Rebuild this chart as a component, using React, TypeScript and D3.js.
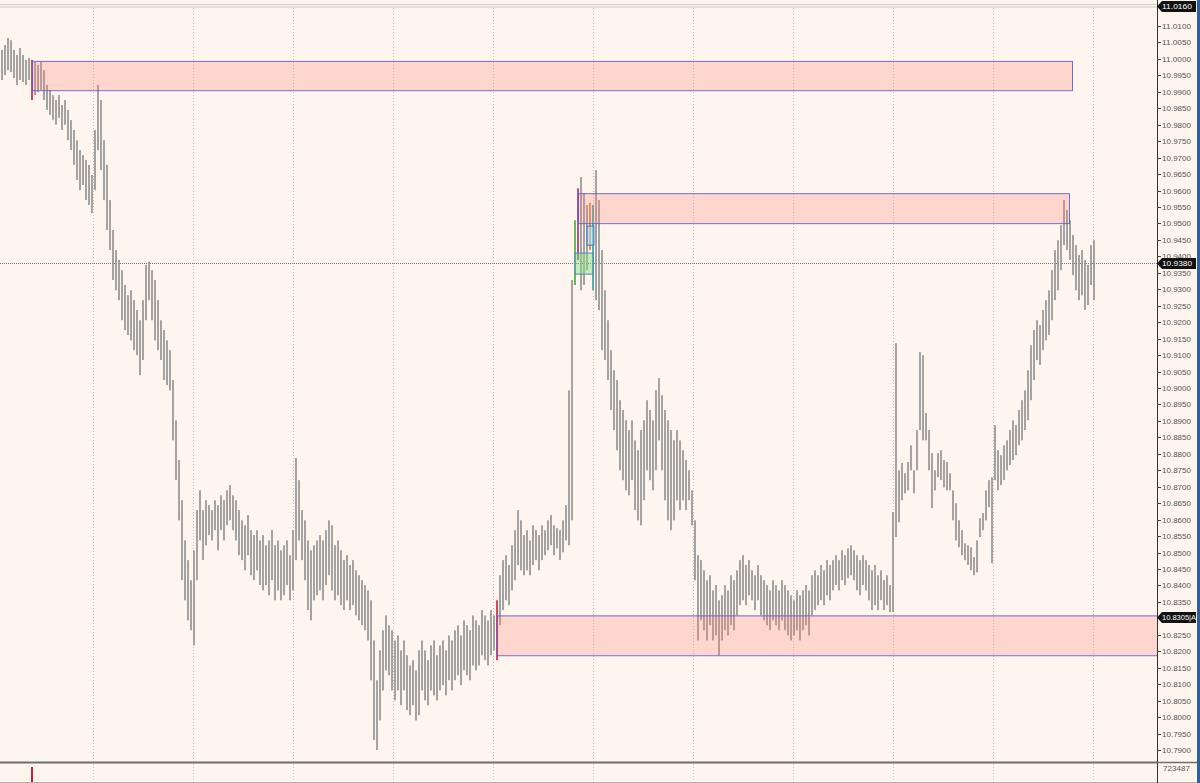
import React from "react";
import * as d3 from "d3";

// ---- DATA ----
const highs: number[] = [
  11.0027, 11.0042, 11.0064, 11.0057, 11.0027, 11.0012, 11.0033, 11.0012, 10.9997, 11.0003,
  10.9997, 10.9991, 10.9982, 10.9991, 10.9966, 10.9921, 10.9905, 10.9890, 10.9875, 10.9890,
  10.9860, 10.9875, 10.9845, 10.9814, 10.9784, 10.9753, 10.9723, 10.9708, 10.9693, 10.9678,
  10.9647, 10.9784, 10.9921, 10.9875, 10.9753, 10.9678, 10.9571, 10.9480, 10.9419, 10.9389,
  10.9358, 10.9313, 10.9282, 10.9297, 10.9267, 10.9237, 10.9206, 10.9267, 10.9374, 10.9383,
  10.9358, 10.9328, 10.9267, 10.9206, 10.9176, 10.9145, 10.9115, 10.9024, 10.8902, 10.8781,
  10.8659, 10.8537, 10.8477, 10.8416, 10.8507, 10.8629, 10.8689, 10.8629, 10.8659, 10.8644,
  10.8629, 10.8659, 10.8644, 10.8674, 10.8659, 10.8689, 10.8705, 10.8674, 10.8659, 10.8629,
  10.8598, 10.8583, 10.8614, 10.8568, 10.8553, 10.8568, 10.8537, 10.8553, 10.8522, 10.8537,
  10.8568, 10.8522, 10.8537, 10.8507, 10.8522, 10.8537, 10.8492, 10.8568, 10.8787, 10.8720,
  10.8629, 10.8598, 10.8537, 10.8507, 10.8522, 10.8537, 10.8553, 10.8537, 10.8568, 10.8598,
  10.8583, 10.8522, 10.8537, 10.8507, 10.8477, 10.8492, 10.8462, 10.8477, 10.8446, 10.8431,
  10.8416, 10.8401, 10.8385, 10.8355, 10.8233, 10.8112, 10.8203, 10.8264, 10.8309, 10.8279,
  10.8264, 10.8233, 10.8248, 10.8203, 10.8233, 10.8188, 10.8157, 10.8173, 10.8142, 10.8203,
  10.8233, 10.8203, 10.8173, 10.8218, 10.8233, 10.8188, 10.8218, 10.8233, 10.8203, 10.8248,
  10.8233, 10.8264, 10.8279, 10.8248, 10.8294, 10.8279, 10.8264, 10.8309, 10.8294, 10.8279,
  10.8325, 10.8309, 10.8294, 10.8325, 10.8309, 10.8355, 10.8431, 10.8477, 10.8492, 10.8462,
  10.8522, 10.8568, 10.8629, 10.8598, 10.8553, 10.8568, 10.8537, 10.8583, 10.8568, 10.8553,
  10.8583, 10.8568, 10.8598, 10.8614, 10.8583, 10.8574, 10.8568, 10.8598, 10.8644, 10.8993,
  10.9328, 10.9510, 10.9607, 10.9641, 10.9592, 10.9556, 10.9562, 10.9556, 10.9662, 10.9571,
  10.9419, 10.9297, 10.9206, 10.9115, 10.9054, 10.9024, 10.8963, 10.8933, 10.8902, 10.8872,
  10.8902, 10.8841, 10.8811, 10.8872, 10.8902, 10.8963, 10.8933, 10.8902, 10.8993, 10.9030,
  10.8978, 10.8933, 10.8902, 10.8872, 10.8841, 10.8872, 10.8841, 10.8811, 10.8781, 10.8750,
  10.8689, 10.8598, 10.8492, 10.8477, 10.8446, 10.8416, 10.8431, 10.8385, 10.8401, 10.8355,
  10.8370, 10.8401, 10.8385, 10.8431, 10.8416, 10.8446, 10.8477, 10.8492, 10.8462, 10.8477,
  10.8446, 10.8431, 10.8462, 10.8431, 10.8416, 10.8401, 10.8385, 10.8416, 10.8401, 10.8385,
  10.8416, 10.8401, 10.8385, 10.8370, 10.8355, 10.8385, 10.8370, 10.8385, 10.8401, 10.8385,
  10.8431, 10.8446, 10.8431, 10.8462, 10.8446, 10.8477, 10.8462, 10.8477, 10.8492, 10.8477,
  10.8507, 10.8492, 10.8513, 10.8522, 10.8507, 10.8492, 10.8477, 10.8492, 10.8477, 10.8462,
  10.8446, 10.8462, 10.8431, 10.8446, 10.8416, 10.8431, 10.8401, 10.8623, 10.9136, 10.8750,
  10.8772, 10.8741, 10.8775, 10.8826, 10.8750, 10.8872, 10.9109, 10.9100, 10.8924, 10.8872,
  10.8802, 10.8750, 10.8802, 10.8811, 10.8781, 10.8775, 10.8741, 10.8689, 10.8650, 10.8598,
  10.8568, 10.8528, 10.8522, 10.8516, 10.8486, 10.8537, 10.8604, 10.8620, 10.8689, 10.8720,
  10.8729, 10.8887, 10.8811, 10.8796, 10.8826, 10.8841, 10.8872, 10.8902, 10.8887, 10.8933,
  10.8963, 10.8993, 10.9054, 10.9130, 10.9176, 10.9206, 10.9191, 10.9237, 10.9267, 10.9297,
  10.9358, 10.9419, 10.9449, 10.9495, 10.9571, 10.9541, 10.9510, 10.9465, 10.9434, 10.9404,
  10.9419, 10.9389, 10.9374, 10.9434, 10.9449,
];

const lows: number[] = [
  10.9936, 10.9951, 10.9966, 10.9960, 10.9942, 10.9921, 10.9936, 10.9930, 10.9921, 10.9936,
  10.9875, 10.9890, 10.9899, 10.9905, 10.9875, 10.9845, 10.9830, 10.9815, 10.9800, 10.9821,
  10.9784, 10.9800, 10.9753, 10.9723, 10.9678, 10.9632, 10.9601, 10.9617, 10.9571, 10.9556,
  10.9532, 10.9601, 10.9723, 10.9662, 10.9571, 10.9480, 10.9419, 10.9328, 10.9297, 10.9267,
  10.9206, 10.9176, 10.9161, 10.9145, 10.9115, 10.9100, 10.9039, 10.9085, 10.9206, 10.9267,
  10.9206, 10.9145, 10.9115, 10.9085, 10.9024, 10.9009, 10.8993, 10.8841, 10.8720, 10.8598,
  10.8416, 10.8355, 10.8294, 10.8264, 10.8218, 10.8416, 10.8537, 10.8477, 10.8522, 10.8553,
  10.8537, 10.8568, 10.8507, 10.8568, 10.8537, 10.8583, 10.8598, 10.8568, 10.8537, 10.8492,
  10.8477, 10.8446, 10.8492, 10.8431, 10.8416, 10.8446, 10.8401, 10.8385, 10.8401, 10.8370,
  10.8416, 10.8355, 10.8385, 10.8355, 10.8370, 10.8401, 10.8355, 10.8385, 10.8477, 10.8537,
  10.8477, 10.8416, 10.8325, 10.8294, 10.8355, 10.8370, 10.8385, 10.8355, 10.8401, 10.8431,
  10.8385, 10.8355, 10.8370, 10.8340, 10.8325, 10.8355, 10.8325, 10.8340, 10.8309, 10.8294,
  10.8279, 10.8264, 10.8233, 10.8112, 10.7930, 10.7900, 10.7990, 10.8081, 10.8142, 10.8127,
  10.8081, 10.8051, 10.8081, 10.8036, 10.8081, 10.8021, 10.8006, 10.8036, 10.7990, 10.8006,
  10.8081, 10.8051, 10.8036, 10.8081, 10.8066, 10.8051, 10.8081, 10.8097, 10.8066, 10.8112,
  10.8081, 10.8112, 10.8127, 10.8097, 10.8142, 10.8127, 10.8112, 10.8157, 10.8142, 10.8157,
  10.8188, 10.8173, 10.8157, 10.8188, 10.8203, 10.8173, 10.8279, 10.8325, 10.8355, 10.8340,
  10.8385, 10.8416, 10.8462, 10.8446, 10.8431, 10.8446, 10.8431, 10.8462, 10.8477, 10.8446,
  10.8477, 10.8492, 10.8507, 10.8522, 10.8492, 10.8513, 10.8477, 10.8501, 10.8537, 10.8522,
  10.8598, 10.9313, 10.9389, 10.9297, 10.9313, 10.9358, 10.9419, 10.9297, 10.9267, 10.9237,
  10.9115, 10.9085, 10.9024, 10.8933, 10.8872, 10.8811, 10.8750, 10.8720, 10.8689, 10.8674,
  10.8720, 10.8629, 10.8598, 10.8583, 10.8659, 10.8750, 10.8720, 10.8689, 10.8750, 10.8841,
  10.8750, 10.8659, 10.8598, 10.8568, 10.8598, 10.8659, 10.8629, 10.8659, 10.8629, 10.8659,
  10.8583, 10.8416, 10.8233, 10.8294, 10.8264, 10.8233, 10.8279, 10.8233, 10.8248, 10.8188,
  10.8233, 10.8264, 10.8248, 10.8279, 10.8264, 10.8309, 10.8340, 10.8355, 10.8340, 10.8370,
  10.8355, 10.8325, 10.8355, 10.8309, 10.8294, 10.8279, 10.8264, 10.8294, 10.8279, 10.8264,
  10.8294, 10.8264, 10.8248, 10.8233, 10.8248, 10.8264, 10.8233, 10.8264, 10.8279, 10.8248,
  10.8309, 10.8325, 10.8340, 10.8355, 10.8340, 10.8370, 10.8355, 10.8385, 10.8401, 10.8385,
  10.8416, 10.8401, 10.8422, 10.8431, 10.8416, 10.8385, 10.8370, 10.8401, 10.8385, 10.8355,
  10.8325, 10.8340, 10.8325, 10.8355, 10.8325, 10.8340, 10.8319, 10.8319, 10.8547, 10.8592,
  10.8659, 10.8680, 10.8689, 10.8750, 10.8680, 10.8750, 10.8872, 10.8841, 10.8841, 10.8750,
  10.8635, 10.8689, 10.8729, 10.8720, 10.8698, 10.8689, 10.8689, 10.8598, 10.8537, 10.8516,
  10.8492, 10.8477, 10.8462, 10.8446, 10.8431, 10.8440, 10.8547, 10.8568, 10.8598, 10.8638,
  10.8468, 10.8720, 10.8689, 10.8705, 10.8720, 10.8750, 10.8766, 10.8781, 10.8796, 10.8826,
  10.8841, 10.8872, 10.8902, 10.8963, 10.9024, 10.9085, 10.9070, 10.9115, 10.9145, 10.9161,
  10.9206, 10.9267, 10.9297, 10.9358, 10.9434, 10.9419, 10.9389, 10.9343, 10.9297, 10.9267,
  10.9282, 10.9237, 10.9252, 10.9313, 10.9267,
];

// Coloured bars (indicator highlights)
const redBars = [10, 165];
const greenBars = [191];
const purpleBars = [192];
const orangeBars = [196];
const tealBars = [197];

// Supply / demand zones
const zoneStart = [10, 192, 165];
const zoneEnd: (number | null)[] = [357, 356, null];
const zoneHigh = [10.9994, 10.9592, 10.8309];
const zoneLow = [10.9905, 10.9501, 10.8188];

// small indicator boxes near the middle peak
const greenBoxBars = [191, 197];
const greenBoxPrices = [10.941, 10.9346];
const blueBoxBars = [195, 197.3];
const blueBoxPrices = [10.9492, 10.9434];

// session separators (in bar units)
const sessionBreaks = [30.3, 63.7, 97, 130.3, 163.7, 197, 230.3, 263.7, 297, 330.3, 363.7];

// price axis (11.0150 and 10.8300 are hidden behind the price flags in the reference)
const yTickValues = [
  10.79, 10.795, 10.8, 10.805, 10.81, 10.815, 10.82, 10.825, 10.835,
  10.84, 10.845, 10.85, 10.855, 10.86, 10.865, 10.87, 10.875, 10.88, 10.885,
  10.89, 10.895, 10.9, 10.905, 10.91, 10.915, 10.92, 10.925, 10.93, 10.935,
  10.94, 10.945, 10.95, 10.955, 10.96, 10.965, 10.97, 10.975, 10.98, 10.985,
  10.99, 10.995, 11.0, 11.005, 11.01,
];
const topPrice = 11.016;
const lastPrice = 10.938;
const zonePrice = 10.8305;

// volume pane
const volumeBarIndex = [10];
const volumeValues = [723487];
const volumeMaxLabel = "723487";

export default function App() {
  const W = 1200;
  const H = 783;
  const plotRight = 1157;
  const plotBottom = 762;
  const bg = "#fef5ee";
  const font = "'Liberation Sans', Arial, sans-serif";

  const x = d3.scaleLinear().domain([0, highs.length - 1]).range([2, 1094]);
  const y = d3.scaleLinear().domain([10.79, 11.01]).range([750, 26]);
  const vy = d3.scaleLinear().domain([0, d3.max(volumeValues) as number]).range([782, 767]);

  const barColor = (i: number) => {
    if (redBars.includes(i)) return "#c8203a";
    if (greenBars.includes(i)) return "#46a846";
    if (purpleBars.includes(i)) return "#9a3078";
    if (orangeBars.includes(i)) return "#c8843a";
    if (tealBars.includes(i)) return "#3a9a9a";
    return "#8f8f8f";
  };

  const labelBox = (price: number, text: string, key: string, len: number) => {
    const cy = Math.round(y(price)) + 0.5;
    const p = `M${plotRight},${cy} L${plotRight + 5},${cy - 5.5} L${W - 4},${cy - 5.5} L${W - 4},${cy + 5.5} L${plotRight + 5},${cy + 5.5} Z`;
    return (
      <g key={key}>
        <path d={p} fill="#111" />
        <text
          x={plotRight + 5}
          y={cy + 0.5}
          fill="#fff"
          fontSize={8}
          fontFamily={font}
          dominantBaseline="middle"
          textLength={len}
          lengthAdjust="spacingAndGlyphs"
        >
          {text}
        </text>
      </g>
    );
  };

  return (
    <div style={{ position: "absolute", left: 0, top: 0 }}>
      <svg width={W} height={H} style={{ display: "block" }}>
        <defs>
          <clipPath id="plotClip">
            <rect x={0} y={0} width={plotRight} height={plotBottom} />
          </clipPath>
        </defs>
        <rect x={0} y={0} width={W} height={H} fill={bg} />

        {/* top border lines */}
        <line x1={0} x2={W} y1={4.5} y2={4.5} stroke="#d6cec6" />
        <line x1={0} x2={W} y1={7} y2={7} stroke="#cfc7bf" />

        {/* session separators */}
        {sessionBreaks.map((b, i) => (
          <line
            key={"sb" + i}
            x1={Math.round(x(b)) + 0.5}
            x2={Math.round(x(b)) + 0.5}
            y1={8}
            y2={H}
            stroke="#c9c1ba"
            strokeDasharray="1,2"
          />
        ))}

        <g clipPath="url(#plotClip)">
          {/* last price dotted line */}
          <line
            x1={0}
            x2={plotRight}
            y1={Math.round(y(lastPrice)) + 0.5}
            y2={Math.round(y(lastPrice)) + 0.5}
            stroke="#777"
            strokeDasharray="1,1"
          />

          {/* price bars */}
          {highs.map((h, i) => (
            <rect
              key={"b" + i}
              x={x(i) - 0.8}
              y={y(h)}
              width={1.6}
              height={Math.max(1, y(lows[i]) - y(h))}
              fill={barColor(i)}
            />
          ))}

          {/* zones */}
          {zoneStart.map((s, i) => {
            const x0 = x(s);
            const e = zoneEnd[i];
            const x1 = e === null ? plotRight + 2 : x(e);
            const y0 = y(zoneHigh[i]);
            const y1 = y(zoneLow[i]);
            return (
              <g key={"z" + i}>
                <rect x={x0} y={y0} width={x1 - x0} height={y1 - y0} fill="#ff7a6e" fillOpacity={0.25} />
                <rect
                  x={x0 + 0.5}
                  y={y0 + 0.5}
                  width={x1 - x0 - 1}
                  height={y1 - y0}
                  fill="none"
                  stroke="#5c58d0"
                  strokeOpacity={0.85}
                />
              </g>
            );
          })}

          {/* indicator boxes */}
          <rect
            x={x(greenBoxBars[0])}
            y={y(greenBoxPrices[0])}
            width={x(greenBoxBars[1]) - x(greenBoxBars[0])}
            height={y(greenBoxPrices[1]) - y(greenBoxPrices[0])}
            fill="#7ee07a"
            fillOpacity={0.45}
            stroke="#4a8ac0"
          />
          <rect
            x={x(blueBoxBars[0])}
            y={y(blueBoxPrices[0])}
            width={x(blueBoxBars[1]) - x(blueBoxBars[0])}
            height={y(blueBoxPrices[1]) - y(blueBoxPrices[0])}
            fill="#a8d8e8"
            fillOpacity={0.6}
            stroke="#4a70c8"
          />
        </g>

        {/* lower (volume) pane */}
        <line x1={0} x2={plotRight} y1={plotBottom + 0.5} y2={plotBottom + 0.5} stroke="#6e6e6e" strokeWidth={2} />
        <line x1={0} x2={W} y1={782.5} y2={782.5} stroke="#b8b0a8" />
        {volumeBarIndex.map((vi, i) => (
          <rect
            key={"v" + i}
            x={x(vi) - 1}
            y={vy(volumeValues[i])}
            width={2}
            height={782 - vy(volumeValues[i])}
            fill="#c8203a"
          />
        ))}

        {/* price axis */}
        <line x1={plotRight + 0.5} x2={plotRight + 0.5} y1={0} y2={H} stroke="#333" />
        <line x1={plotRight} x2={W} y1={plotBottom + 0.5} y2={plotBottom + 0.5} stroke="#6e6e6e" strokeWidth={1.5} />
        {yTickValues.map((v, i) => {
          const yy = Math.round(y(v)) + 0.5;
          return (
            <g key={"t" + i}>
              <line x1={plotRight} x2={plotRight + 4} y1={yy} y2={yy} stroke="#444" />
              <text
                x={plotRight + 5}
                y={yy + 0.5}
                fontSize={8}
                fontFamily={font}
                fill="#555"
                dominantBaseline="middle"
                textLength={29}
                lengthAdjust="spacingAndGlyphs"
              >
                {d3.format(".4f")(v)}
              </text>
            </g>
          );
        })}
        {labelBox(topPrice, d3.format(".4f")(topPrice), "lt", 30)}
        {labelBox(lastPrice, d3.format(".4f")(lastPrice), "ll", 30)}
        {labelBox(zonePrice, d3.format(".4f")(zonePrice) + "|A", "lz", 34)}
        <text
          x={plotRight + 6}
          y={769}
          fontSize={8}
          fontFamily={font}
          fill="#555"
          dominantBaseline="middle"
          textLength={27}
          lengthAdjust="spacingAndGlyphs"
        >
          {volumeMaxLabel}
        </text>

        {/* right window border */}
        <rect x={W - 3} y={0} width={3} height={H} fill="#2f5f9f" />
      </svg>
    </div>
  );
}
